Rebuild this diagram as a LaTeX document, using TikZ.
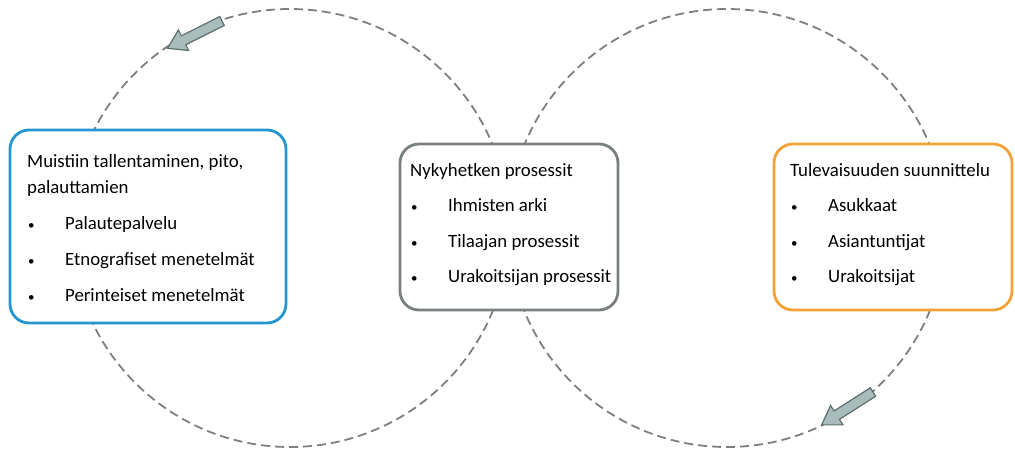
\documentclass[tikz,border=0pt]{standalone}
\usepackage{fontspec}
\setmainfont{Carlito}
\usetikzlibrary{calc}

\definecolor{ringgrey}{HTML}{7F7F7F}
\definecolor{memblue}{HTML}{2596CE}
\definecolor{nowgrey}{HTML}{7A7F82}
\definecolor{futorange}{HTML}{F2A237}
\definecolor{arrowfill}{HTML}{A8BCBB}
\definecolor{arrowline}{HTML}{5E6E6D}

\newcommand{\itemrow}[1]{\makebox[38pt][l]{\hspace{1pt}{\fontsize{13}{13}\selectfont\textbullet}}#1}

\begin{document}
\begin{tikzpicture}[x=1pt,y=-1pt,
  ring/.style={draw=ringgrey, line width=1.8pt, dash pattern=on 9pt off 5pt},
  panel/.style={draw, fill=white, line width=2.8pt, rounded corners=19pt, inner sep=0pt},
  paneltext/.style={anchor=base west, inner sep=0pt, font=\fontsize{18.8}{26}\selectfont},
  flow/.style={fill=arrowfill, draw=arrowline, line width=1.2pt, line join=miter}
]
\useasboundingbox (0,0) rectangle (1015,448);

% the two cycles
\draw[ring] (290,228) circle[radius=219];
\draw[ring] (727,228) circle[radius=219];

% direction arrows on the cycles
\begin{scope}[shift={(222,21)}, rotate=206.6]
  \draw[flow] (0,-5) -- (43,-5) -- (43,-11.5) -- (61,0) -- (43,11.5) -- (43,5) -- (0,5) -- cycle;
\end{scope}
\begin{scope}[shift={(873,392)}, rotate=212.6]
  \draw[flow] (0,-5) -- (43,-5) -- (43,-11.5) -- (61,0) -- (43,11.5) -- (43,5) -- (0,5) -- cycle;
\end{scope}

% panels
\node[panel, draw=memblue, minimum width=276pt, minimum height=193pt] (mem) at (148,226.5) {};
\node[panel, draw=nowgrey, minimum width=218pt, minimum height=166pt] (now) at (509,227) {};
\node[panel, draw=futorange, minimum width=238pt, minimum height=166pt] (fut) at (893,227) {};

% panel contents
\node[paneltext] (memtxt) at (27,167) {\begin{tabular}[t]{@{}l@{}}
Muistiin tallentaminen, pito,\\
palauttamien\\[10pt]
\itemrow{Palautepalvelu}\\[10pt]
\itemrow{Etnografiset menetelmät}\\[10pt]
\itemrow{Perinteiset menetelmät}
\end{tabular}};

\node[paneltext] (nowtxt) at (410,176) {\begin{tabular}[t]{@{}l@{}}
Nykyhetken prosessit\\[9.5pt]
\itemrow{Ihmisten arki}\\[9.5pt]
\itemrow{Tilaajan prosessit}\\[9.5pt]
\itemrow{Urakoitsijan prosessit}
\end{tabular}};

\node[paneltext] (futtxt) at (790,176) {\begin{tabular}[t]{@{}l@{}}
Tulevaisuuden suunnittelu\\[9.5pt]
\itemrow{Asukkaat}\\[9.5pt]
\itemrow{Asiantuntijat}\\[9.5pt]
\itemrow{Urakoitsijat}
\end{tabular}};
\end{tikzpicture}
\end{document}
